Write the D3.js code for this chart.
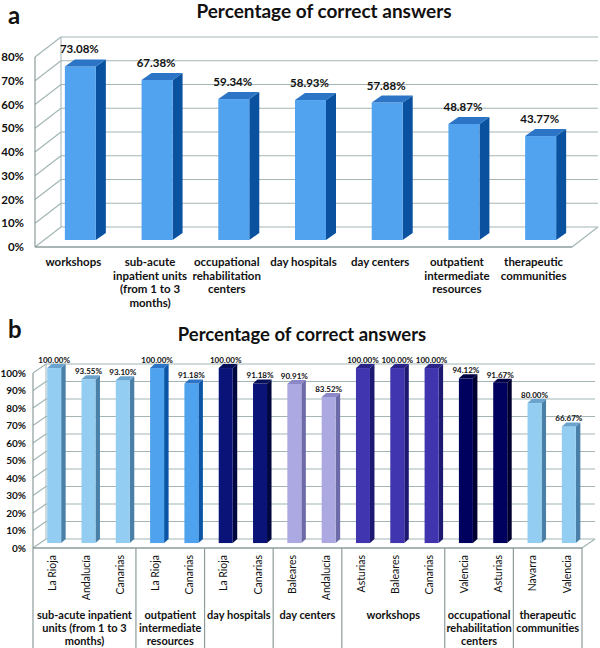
<!DOCTYPE html>
<html><head><meta charset="utf-8">
<script src="https://cdn.jsdelivr.net/npm/d3@7/dist/d3.min.js"></script>
<style>
body{margin:0;background:#fff;}
svg text{font-family:Lato,"Open Sans",sans-serif;}
</style></head>
<body>
<svg id="c" width="600" height="648"></svg>
<script>
// ---- Data: chart a ----
const categoriesA = ["workshops","sub-acute inpatient units (from 1 to 3 months)","occupational rehabilitation centers","day hospitals","day centers","outpatient intermediate resources","therapeutic communities"];
const labelLinesA = [["workshops"],["sub-acute","inpatient units","(from 1 to 3","months)"],["occupational","rehabilitation","centers"],["day hospitals"],["day centers"],["outpatient","intermediate","resources"],["therapeutic","communities"]];
const valuesA = [73.08, 67.38, 59.34, 58.93, 57.88, 48.87, 43.77];
const ticksA = [0,10,20,30,40,50,60,70,80];

// ---- Data: chart b ----
const groupsB = ["sub-acute inpatient units (from 1 to 3 months)","outpatient intermediate resources","day hospitals","day centers","workshops","occupational rehabilitation centers","therapeutic communities"];
const groupLinesB = [["sub-acute inpatient","units (from 1 to 3","months)"],["outpatient","intermediate","resources"],["day hospitals"],["day centers"],["workshops"],["occupational","rehabilitation","centers"],["therapeutic","communities"]];
const regionsB = ["La Rioja","Andalucía","Canarias","La Rioja","Canarias","La Rioja","Canarias","Baleares","Andalucía","Asturias","Baleares","Canarias","Valencia","Asturias","Navarra","Valencia"];
const groupIndexB = [0,0,0,1,1,2,2,3,3,4,4,4,5,5,6,6];
const valuesB = [100.00, 93.55, 93.10, 100.00, 91.18, 100.00, 91.18, 90.91, 83.52, 100.00, 100.00, 100.00, 94.12, 91.67, 80.00, 66.67];
const ticksB = [0,10,20,30,40,50,60,70,80,90,100];

// ---- Styles ----
const colA = {front:"#52A3EF", side:"#0A52A0", top:"#2B74C6"};
const colB = [
  {front:"#93CEF2", side:"#4A80A8", top:"#6BA3CF"},
  {front:"#4FA2EE", side:"#0A55A5", top:"#2B74C6"},
  {front:"#0A1478", side:"#00073F", top:"#06105A"},
  {front:"#ACA8E2", side:"#6D6AAA", top:"#8C88C8"},
  {front:"#4035AE", side:"#1D1870", top:"#2A2488"},
  {front:"#00005E", side:"#000030", top:"#000045"},
  {front:"#93CEF2", side:"#4A80A8", top:"#6BA3CF"}
];
const gridCol = "#a3b5b5", axisCol = "#8d9b9b";
const svg = d3.select("#c");
const pts = a => a.map(p => p.join(",")).join(" ");

function chart(cfg){
  const g = svg.append("g");
  const x = d3.scaleBand().domain(d3.range(cfg.values.length)).range([cfg.x0, cfg.x1]).padding(0);
  const y = d3.scaleLinear().domain([0, cfg.max]).range([cfg.yBottom, cfg.yTop]);
  const [DX, DY] = cfg.depth;
  // back wall gridlines
  cfg.ticks.forEach(t => {
    g.append("line").attr("x1", cfg.x0 + DX).attr("x2", cfg.x1 + DX)
      .attr("y1", y(t) + DY).attr("y2", y(t) + DY).attr("stroke", gridCol).attr("stroke-width", 1.2);
    g.append("line").attr("x1", cfg.x0).attr("x2", cfg.x0 + DX)
      .attr("y1", y(t)).attr("y2", y(t) + DY).attr("stroke", gridCol).attr("stroke-width", 1.2);
    g.append("text").attr("x", cfg.tickX).attr("y", y(t)).attr("dy", "0.35em")
      .attr("text-anchor", "end").attr("font-weight", "bold").attr("font-size", cfg.tickFont)
      .attr("fill", "#111").text(t + "%");
  });
  // left wall back edge
  g.append("line").attr("x1", cfg.x0 + DX).attr("x2", cfg.x0 + DX)
    .attr("y1", y(0) + DY).attr("y2", y(cfg.max) + DY).attr("stroke", gridCol);
  // left front edge
  g.append("line").attr("x1", cfg.x0).attr("x2", cfg.x0)
    .attr("y1", y(0)).attr("y2", y(cfg.max)).attr("stroke", axisCol).attr("stroke-width", 1.2);
  // floor front + right edges
  g.append("line").attr("x1", cfg.x0).attr("x2", cfg.x1).attr("y1", y(0)).attr("y2", y(0))
    .attr("stroke", axisCol).attr("stroke-width", 1.3);
  g.append("line").attr("x1", cfg.x1).attr("x2", cfg.x1 + DX).attr("y1", y(0)).attr("y2", y(0) + DY)
    .attr("stroke", gridCol).attr("stroke-width", 1.2);

  // bars
  const k = cfg.barK, bw = cfg.barW, [sx, sy] = cfg.barSide;
  cfg.values.forEach((v, i) => {
    const c = cfg.color(i);
    const xl = x(i) + x.bandwidth()/2 - bw/2 + cfg.barShift;
    const y0 = y(0) + DY * k, y1 = y(v) + DY * k;
    g.append("polygon").attr("points", pts([[xl+bw, y1],[xl+bw+sx, y1+sy],[xl+bw+sx, y0+sy],[xl+bw, y0]])).attr("fill", c.side);
    g.append("rect").attr("x", xl).attr("y", y1).attr("width", bw).attr("height", y0 - y1).attr("fill", c.front);
    g.append("polygon").attr("points", pts([[xl, y1],[xl+bw, y1],[xl+bw+sx, y1+sy],[xl+sx, y1+sy]])).attr("fill", c.top);
    g.append("text").attr("x", xl + bw/2 + cfg.lblShift).attr("y", y1 - cfg.lblGap)
      .attr("text-anchor", "middle").attr("font-weight", "bold").attr("font-size", cfg.valFont)
      .attr("fill", "#111").text(v.toFixed(2) + "%");
  });
  return {g, x, y};
}

// ---- Chart a ----
svg.append("text").attr("x", 8).attr("y", 24).attr("font-weight", "bold").attr("font-size", 24).attr("fill","#111").text("a");
svg.append("text").attr("x", 324).attr("y", 18).attr("text-anchor", "middle").attr("font-weight", "bold").attr("font-size", 19).attr("fill","#111").text("Percentage of correct answers");
const A = chart({values: valuesA, ticks: ticksA, max: 80, x0: 35, x1: 572, yBottom: 247, yTop: 57,
  depth: [26, -20], barK: 0.35, barW: 31, barSide: [10, -7], barShift: 7, lblShift: -1, lblGap: 13,
  tickX: 24, tickFont: 11.5, valFont: 11.5, color: () => colA});
labelLinesA.forEach((lines, i) => {
  const t = A.g.append("text").attr("text-anchor", "middle").attr("font-weight", "bold").attr("font-size", 11.5).attr("fill", "#111");
  lines.forEach((l, j) => t.append("tspan").attr("x", A.x(i) + A.x.bandwidth()/2).attr("y", 266 + j * 13.5).text(l));
});

// ---- Chart b ----
svg.append("text").attr("x", 8).attr("y", 338).attr("font-weight", "bold").attr("font-size", 24).attr("fill","#111").text("b");
svg.append("text").attr("x", 302).attr("y", 341).attr("text-anchor", "middle").attr("font-weight", "bold").attr("font-size", 18.5).attr("fill","#111").text("Percentage of correct answers");
const B = chart({values: valuesB, ticks: ticksB, max: 100, x0: 33, x1: 582, yBottom: 548, yTop: 373,
  depth: [13, -9], barK: 0.55, barW: 14, barSide: [4.5, -4], barShift: 4, lblShift: 0, lblGap: 5,
  tickX: 26, tickFont: 10, valFont: 8, color: i => colB[groupIndexB[i]]});
regionsB.forEach((r, i) => {
  const cx = B.x(i) + B.x.bandwidth()/2 + 2;
  B.g.append("text").attr("transform", `translate(${cx},555) rotate(-90)`).attr("dy", "0.35em")
    .attr("text-anchor", "end").attr("font-size", 10.5).attr("fill", "#111").text(r);
});
// group dividers and labels
const bounds = [0];
groupsB.forEach((gname, gi) => bounds.push(groupIndexB.lastIndexOf(gi) + 1));
bounds.forEach(b => {
  const xx = b < regionsB.length ? B.x(b) : B.x(regionsB.length - 1) + B.x.bandwidth();
  B.g.append("line").attr("x1", xx).attr("x2", xx).attr("y1", 548).attr("y2", 648).attr("stroke", axisCol).attr("stroke-width", 1.2);
});
groupLinesB.forEach((lines, gi) => {
  const a = bounds[gi], b = bounds[gi + 1];
  const cx = (B.x(a) + B.x(b - 1) + B.x.bandwidth()) / 2;
  const t = B.g.append("text").attr("text-anchor", "middle").attr("font-weight", "bold").attr("font-size", 11).attr("fill", "#111");
  lines.forEach((l, j) => t.append("tspan").attr("x", cx).attr("y", 619 + j * 13).text(l));
});
</script>
</body></html>
